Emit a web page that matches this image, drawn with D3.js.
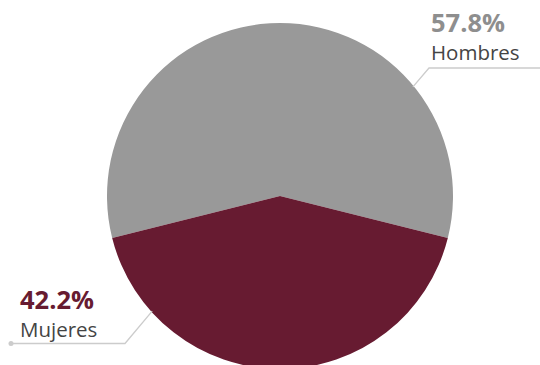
<!DOCTYPE html>
<html>
<head>
<meta charset="utf-8">
<script src="https://cdn.jsdelivr.net/npm/d3@7"></script>
<style>
  html, body { margin: 0; padding: 0; background: #ffffff; }
  svg { display: block; font-family: "Open Sans", sans-serif; }
</style>
</head>
<body>
<div id="chart"></div>
<script>
let categories = ["Hombres", "Mujeres"];
let values = [57.8, 42.2];
let pctLabels = ["57.8%", "42.2%"];

let width = 540, height = 365;
let cx = 280, cy = 196, radius = 173;
let sliceColors = ["#999999", "#671b31"];
let pctColors = ["#8e8e8e", "#671b31"];

let svg = d3.select("#chart").append("svg")
  .attr("width", width)
  .attr("height", height);

let g = svg.append("g").attr("transform", "translate(" + cx + "," + cy + ")");

// Mujeres slice centred at the bottom
let mujShare = values[1] / d3.sum(values) * 2 * Math.PI;
let start = -(Math.PI - mujShare / 2);
let pie = d3.pie().sort(null).startAngle(start).endAngle(start + 2 * Math.PI);
let arcs = pie(values);
let arc = d3.arc().innerRadius(0).outerRadius(radius);

g.selectAll(".slice")
  .data(arcs).enter()
  .append("path")
  .attr("class", "slice")
  .attr("d", arc)
  .attr("fill", function(d, i) { return sliceColors[i]; });

// leader lines and labels (layout positions)
let labelLayout = [
  { angle: 50.6, elbow: [429, 68], end: [545, 68], text: [431, 31.5], dot: false },
  { angle: 228, elbow: [125, 343.5], end: [11, 343.5], text: [20, 308.5], dot: true }
];

labelLayout.forEach(function(l, i) {
  let a = l.angle * Math.PI / 180;
  let p0 = [cx + (radius - 1) * Math.sin(a), cy - (radius - 1) * Math.cos(a)];
  svg.append("polyline")
    .attr("points", [p0, l.elbow, l.end].map(function(p) { return p.join(","); }).join(" "))
    .attr("fill", "none")
    .attr("stroke", "#cccccc")
    .attr("stroke-width", 1.3);
  if (l.dot) {
    svg.append("circle")
      .attr("cx", l.end[0]).attr("cy", l.end[1])
      .attr("r", 2.5).attr("fill", "#cccccc");
  }
  svg.append("text")
    .attr("x", l.text[0]).attr("y", l.text[1])
    .attr("font-size", 25.5).attr("font-weight", 700)
    .attr("fill", pctColors[i])
    .text(pctLabels[i]);
  svg.append("text")
    .attr("x", l.text[0]).attr("y", l.text[1] + 28)
    .attr("font-size", 20.5)
    .attr("fill", "#444444")
    .text(categories[i]);
});
</script>
</body>
</html>
